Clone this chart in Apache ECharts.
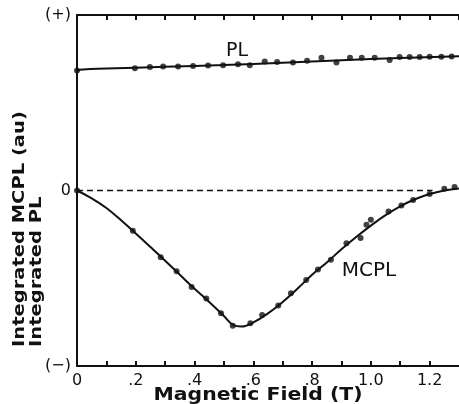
<!DOCTYPE html>
<html>
<head>
<meta charset="utf-8">
<script src="https://cdn.jsdelivr.net/npm/echarts@6/dist/echarts.min.js"></script>
<style>
html,body{margin:0;padding:0;background:#fff;}
#chart{width:459px;height:404px;}
</style>
</head>
<body>
<div id="chart"></div>
<script>
// ---- data ----
// Magnetic field (T) of measured PL points and their values (au)
var plDotX = [0, 0.197, 0.248, 0.293, 0.344, 0.395, 0.446, 0.497, 0.548, 0.588, 0.639, 0.681, 0.735, 0.783, 0.832, 0.883, 0.929, 0.969, 1.013, 1.064, 1.098, 1.132, 1.166, 1.2, 1.24, 1.275];
var plDotY = [0.684, 0.697, 0.703, 0.706, 0.707, 0.709, 0.712, 0.714, 0.72, 0.713, 0.735, 0.732, 0.729, 0.74, 0.757, 0.73, 0.757, 0.756, 0.757, 0.744, 0.76, 0.76, 0.76, 0.762, 0.762, 0.763];
// PL fitted curve
var plFitX = [0, 0.02, 0.1, 0.3, 0.5, 0.7, 0.9, 1.1, 1.3];
var plFitY = [0.684, 0.69, 0.695, 0.705, 0.715, 0.728, 0.742, 0.755, 0.765];
// measured MCPL points
var mcplDotX = [0, 0.19, 0.285, 0.339, 0.39, 0.44, 0.49, 0.53, 0.59, 0.63, 0.685, 0.728, 0.78, 0.82, 0.864, 0.917, 0.965, 0.985, 1.0, 1.06, 1.104, 1.144, 1.2, 1.25, 1.285];
var mcplDotY = [0, -0.23, -0.38, -0.46, -0.55, -0.615, -0.70, -0.77, -0.756, -0.71, -0.655, -0.585, -0.51, -0.45, -0.395, -0.30, -0.27, -0.195, -0.167, -0.12, -0.085, -0.054, -0.02, 0.01, 0.02];
// MCPL fitted curve
var mcplFitX = [0, 0.05, 0.1, 0.15, 0.2, 0.25, 0.3, 0.35, 0.4, 0.45, 0.5, 0.53, 0.56, 0.6, 0.65, 0.7, 0.75, 0.8, 0.85, 0.9, 0.95, 1.0, 1.05, 1.1, 1.15, 1.2, 1.25, 1.3];
var mcplFitY = [0, -0.045, -0.1, -0.17, -0.245, -0.322, -0.40, -0.48, -0.56, -0.635, -0.715, -0.765, -0.775, -0.752, -0.70, -0.635, -0.56, -0.48, -0.41, -0.335, -0.265, -0.2, -0.14, -0.09, -0.05, -0.02, 0.0, 0.012];
// dashed zero reference
var zeroLineX = [0, 1.21];
var zeroLineY = [0, 0];
// tick labels
var xTickLabels = {0: '0', 2: '.2', 4: '.4', 6: '.6', 8: '.8', 10: '1.0', 12: '1.2'};
var yTickLabels = {'-1': '(\u2212)', '0': '0', '1': '(+)'};

function pairs(xs, ys) { return xs.map(function (x, i) { return [x, ys[i]]; }); }

var FONT = 'DejaVu Sans';
var chart = echarts.init(document.getElementById('chart'), null, {renderer: 'canvas'});
var axisBase = {
  type: 'value', min: 0, max: 1.3, interval: 0.1,
  axisLine: {show: true, onZero: false, lineStyle: {color: '#111', width: 2}},
  axisTick: {show: true, inside: true, length: 5, lineStyle: {color: '#111', width: 2}},
  splitLine: {show: false}
};
chart.setOption({
  animation: false,
  backgroundColor: '#fff',
  grid: {left: 77, right: 0, top: 15, bottom: 38, containLabel: false},
  xAxis: [
    Object.assign({}, axisBase, {
      position: 'bottom',
      axisLabel: {
        show: true, margin: 7, color: '#111', fontFamily: FONT, fontSize: 16,
        showMaxLabel: false,
        formatter: function (v) { var k = Math.round(v * 10); return xTickLabels[k] || ''; }
      }
    }),
    Object.assign({}, axisBase, {position: 'top', axisLabel: {show: false}})
  ],
  yAxis: {
    type: 'value', min: -1, max: 1, interval: 1,
    axisLine: {show: true, lineStyle: {color: '#111', width: 2}},
    axisTick: {show: false},
    splitLine: {show: false},
    axisLabel: {
      margin: 6, color: '#111', fontFamily: FONT, fontSize: 16,
      formatter: function (v) { return yTickLabels[String(Math.round(v))]; }
    }
  },
  series: [
    {type: 'line', data: pairs(zeroLineX, zeroLineY), showSymbol: false, silent: true,
     lineStyle: {color: '#111', width: 1.5, type: [6, 4]}},
    {type: 'line', data: pairs(plFitX, plFitY), smooth: true, showSymbol: false,
     lineStyle: {color: '#111', width: 2}},
    {type: 'scatter', data: pairs(plDotX, plDotY), symbolSize: 6, itemStyle: {color: '#111'}},
    {type: 'line', data: pairs(mcplFitX, mcplFitY), smooth: 0.4, showSymbol: false,
     lineStyle: {color: '#111', width: 2}},
    {type: 'scatter', data: pairs(mcplDotX, mcplDotY), symbolSize: 6, itemStyle: {color: '#111'}}
  ],
  graphic: [
    {type: 'text', x: 258, y: 396, scaleX: 1.2, style: {text: 'Magnetic Field (T)', fill: '#111', font: 'bold 17px "DejaVu Sans"', align: 'center', verticalAlign: 'middle'}},
    {type: 'text', x: 20, y: 347, rotation: Math.PI / 2, scaleX: 1.3, style: {text: 'Integrated MCPL (au)', fill: '#111', font: 'bold 15px "DejaVu Sans"', align: 'left', verticalAlign: 'middle'}},
    {type: 'text', x: 37, y: 347, rotation: Math.PI / 2, scaleX: 1.3, style: {text: 'Integrated PL', fill: '#111', font: 'bold 15px "DejaVu Sans"', align: 'left', verticalAlign: 'middle'}},
    {type: 'text', x: 237, y: 51, style: {text: 'PL', fill: '#111', font: '19px "DejaVu Sans"', align: 'center', verticalAlign: 'middle'}},
    {type: 'text', x: 369, y: 271, style: {text: 'MCPL', fill: '#111', font: '20px "DejaVu Sans"', align: 'center', verticalAlign: 'middle'}}
  ]
});
</script>
</body>
</html>
